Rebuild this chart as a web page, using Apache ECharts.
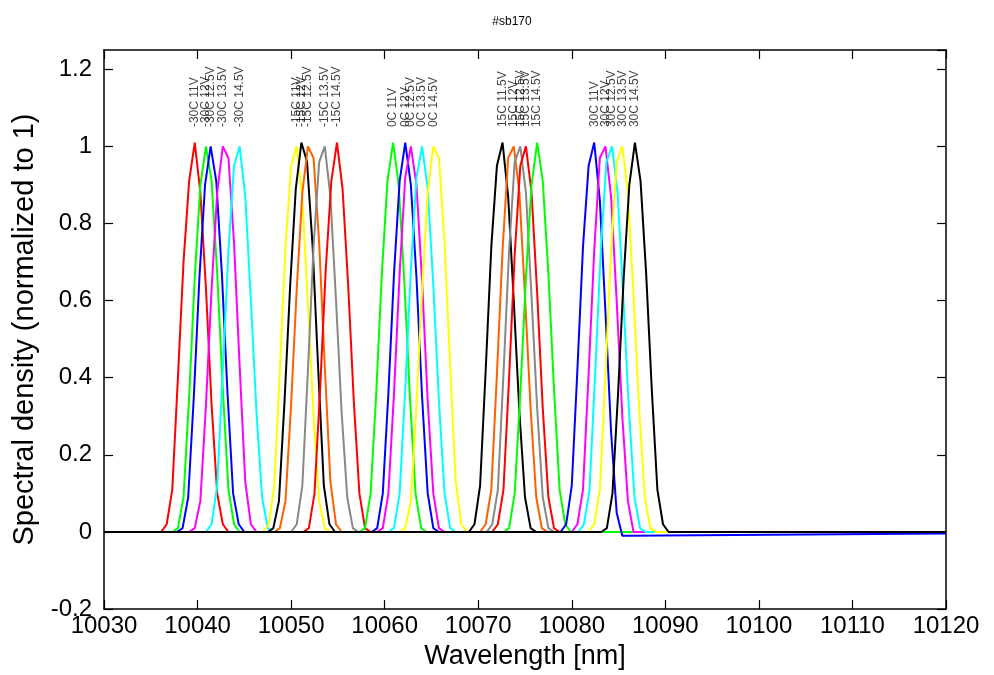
<!DOCTYPE html>
<html><head><meta charset="utf-8">
<script src="https://cdn.jsdelivr.net/npm/echarts@6/dist/echarts.min.js"></script>
<style>html,body{margin:0;padding:0;background:#fff}#c{width:994px;height:675px}</style>
</head><body><div id="c"></div>
<script>
// ---- data ----
const xRange = [10030, 10120];
const xTicks = [10030, 10040, 10050, 10060, 10070, 10080, 10090, 10100, 10110, 10120];
const yTicks = [-0.2, 0, 0.2, 0.4, 0.6, 0.8, 1, 1.2];
const sampleStep = 0.6; // nm between spectrometer samples
const seriesNames = [
  '-30C 11V','-30C 12V','-30C 12.5V','-30C 13.5V','-30C 14.5V',
  '-15C 11V','-15C 12V','-15C 12.5V','-15C 13.5V','-15C 14.5V',
  '0C 11V','0C 12V','0C 12.5V','0C 13.5V','0C 14.5V',
  '15C 11.5V','15C 12V','15C 12.5V','15C 13.5V','15C 14.5V',
  '30C 11V','30C 12V','30C 12.5V','30C 13.5V','30C 14.5V'
];
// wavelength of the peak of each series (nm)
const peakWavelength = [
  10039.7, 10040.9, 10041.4, 10042.7, 10044.5,
  10050.6, 10051.1, 10051.8, 10053.6, 10054.9,
  10060.9, 10062.2, 10062.8, 10064.0, 10065.2,
  10072.6, 10073.8, 10074.5, 10075.1, 10076.3,
  10082.4, 10083.6, 10084.3, 10085.4, 10086.75
];
// spectral density samples around each peak (13 samples, peak is 7th)
const m30C = [
  [0.00,0.02,0.11,0.40,0.70,0.91,1.01,0.88,0.63,0.33,0.10,0.02,0.00],
  [0.00,0.01,0.09,0.35,0.66,0.90,1.00,0.91,0.67,0.37,0.11,0.02,0.00],
  [0.00,0.01,0.09,0.35,0.66,0.90,1.00,0.91,0.67,0.36,0.10,0.02,0.00],
  [0.00,0.01,0.08,0.33,0.63,0.88,1.00,0.97,0.75,0.43,0.13,0.02,0.00],
  [0.00,0.02,0.12,0.42,0.73,0.95,1.00,0.87,0.60,0.31,0.09,0.01,0.00]
];
const m15C = [
  [0.00,0.02,0.12,0.42,0.74,0.95,1.00,0.86,0.59,0.30,0.08,0.01,0.00],
  [0.00,0.01,0.08,0.34,0.64,0.89,1.01,0.96,0.74,0.42,0.12,0.02,0.00],
  [0.00,0.01,0.08,0.33,0.63,0.88,1.00,0.97,0.75,0.43,0.13,0.02,0.00],
  [0.00,0.02,0.12,0.42,0.74,0.96,1.00,0.87,0.60,0.31,0.09,0.01,0.00],
  [0.00,0.01,0.10,0.37,0.68,0.91,1.01,0.89,0.64,0.34,0.10,0.01,0.00]
];
const p0C = [
  [0.00,0.01,0.10,0.36,0.67,0.91,1.01,0.90,0.65,0.35,0.10,0.01,0.00],
  [0.00,0.01,0.10,0.36,0.67,0.91,1.01,0.90,0.66,0.35,0.10,0.01,0.00],
  [0.00,0.01,0.10,0.36,0.67,0.92,1.00,0.90,0.65,0.34,0.10,0.01,0.00],
  [0.00,0.01,0.10,0.37,0.68,0.92,1.00,0.89,0.64,0.34,0.10,0.01,0.00],
  [0.00,0.01,0.08,0.33,0.63,0.88,1.00,0.97,0.75,0.43,0.13,0.02,0.00]
];
const p15C = [
  [0.00,0.02,0.12,0.42,0.74,0.95,1.01,0.87,0.60,0.31,0.09,0.01,0.00],
  [0.00,0.02,0.11,0.41,0.73,0.97,1.00,0.88,0.61,0.32,0.09,0.01,0.00],
  [0.00,0.02,0.11,0.41,0.73,0.96,1.00,0.88,0.61,0.32,0.09,0.01,0.00],
  [0.00,0.02,0.11,0.40,0.72,0.95,1.00,0.88,0.62,0.32,0.09,0.01,0.00],
  [0.00,0.01,0.10,0.36,0.66,0.90,1.01,0.91,0.67,0.37,0.11,0.02,0.00]
];
const p30C = [
  [0.00,0.02,0.12,0.42,0.74,0.95,1.01,0.86,0.57,0.26,0.05,-0.01,-0.01],
  [0.00,0.02,0.11,0.41,0.73,0.97,1.00,0.87,0.60,0.30,0.08,0.00,0.00],
  [0.00,0.02,0.11,0.41,0.73,0.96,1.00,0.88,0.61,0.32,0.09,0.01,0.00],
  [0.00,0.02,0.11,0.41,0.73,0.96,1.00,0.88,0.61,0.32,0.09,0.01,0.00],
  [0.00,0.01,0.10,0.36,0.66,0.90,1.01,0.91,0.67,0.37,0.11,0.02,0.00]
];
// baseline level at the two ends of the wavelength range, per series
const startLevel = [0,0,0,0,0, 0,0,0,0,0, 0,0,0,0,0, 0,0,0,0,0, 0,0,0,0,0];
const endLevel   = [0,0,0,0,0, 0,0,0,0,0, 0,0,0,0,0, 0,0,0,0,0, -0.004,0,0,0,0];
const labelLevel = 1.05;
// ---- style ----
const palette = ['#ff0000','#00ff00','#0000ff','#ff00ff','#00ffff','#ffff00','#000000','#ff6000','#888888'];

const allVals = [].concat(m30C, m15C, p0C, p15C, p30C);
const FONT = '"Liberation Sans", Arial, Helvetica, sans-serif';
const series = allVals.map((vals, i) => {
  const start = peakWavelength[i] - 6 * sampleStep;
  const data = [[xRange[0], startLevel[i]]];
  vals.forEach((v, k) => data.push([+(start + k * sampleStep).toFixed(3), v]));
  data.push([xRange[1], endLevel[i]]);
  return {
    name: seriesNames[i], type: 'line', data: data, showSymbol: false, symbol: 'none',
    lineStyle: {color: palette[i % palette.length], width: 2}, z: 2, silent: true
  };
});
series.push({
  type: 'scatter', symbolSize: 0, silent: true, z: 5,
  data: seriesNames.map((n, i) => [peakWavelength[i], labelLevel, n]),
  label: {show: true, formatter: p => p.data[2], rotate: 90, position: 'inside',
    align: 'left', verticalAlign: 'middle', color: '#111', fontSize: 12, fontFamily: FONT}
});

const chart = echarts.init(document.getElementById('c'), null, {renderer: 'canvas'});
const tickFont = {fontSize: 24, color: '#000', fontFamily: FONT};
const mkTick = (len) => ({show: true, inside: true, length: len, lineStyle: {color: '#000', width: 1.2}});
const mkLine = () => ({show: true, onZero: false, lineStyle: {color: '#000', width: 1.5}});
chart.setOption({
  animation: false,
  backgroundColor: '#fff',
  title: {text: '#sb170', left: 507, top: 11, textAlign: 'center',
    textStyle: {fontSize: 12, fontWeight: 'normal', color: '#000', fontFamily: FONT}},
  grid: {left: 104, right: 48, top: 50, bottom: 61, show: false},
  xAxis: [
    {type: 'value', gridIndex: 0, min: xRange[0], max: xRange[1], interval: 10, position: 'bottom',
     axisLine: mkLine(), splitLine: {show: false}, axisTick: mkTick(9),
     axisLabel: Object.assign({margin: 5, formatter: v => String(v)}, tickFont),
     name: 'Wavelength [nm]', nameLocation: 'middle', nameGap: 30,
     nameTextStyle: {fontSize: 27, color: '#000', fontFamily: FONT}},
    {type: 'value', gridIndex: 0, min: xRange[0], max: xRange[1], interval: 10, position: 'top',
     axisLine: mkLine(), splitLine: {show: false}, axisTick: mkTick(9),
     axisLabel: {show: false}}
  ],
  yAxis: [
    {type: 'value', min: -0.2, max: 1.25, interval: 0.2, position: 'left',
     axisLine: mkLine(), splitLine: {show: false}, axisTick: mkTick(9),
     axisLabel: Object.assign({margin: 12, showMaxLabel: false, formatter: v => String(+v.toFixed(2))}, tickFont),
     name: 'Spectral density (normalized to 1)', nameLocation: 'middle', nameGap: 62,
     nameRotate: 90, nameTextStyle: {fontSize: 29, color: '#000', fontFamily: FONT}},
    {type: 'value', min: -0.2, max: 1.25, interval: 0.2, position: 'right',
     axisLine: mkLine(), splitLine: {show: false}, axisTick: mkTick(9),
     axisLabel: {show: false}}
  ],
  series: series
});
</script></body></html>
